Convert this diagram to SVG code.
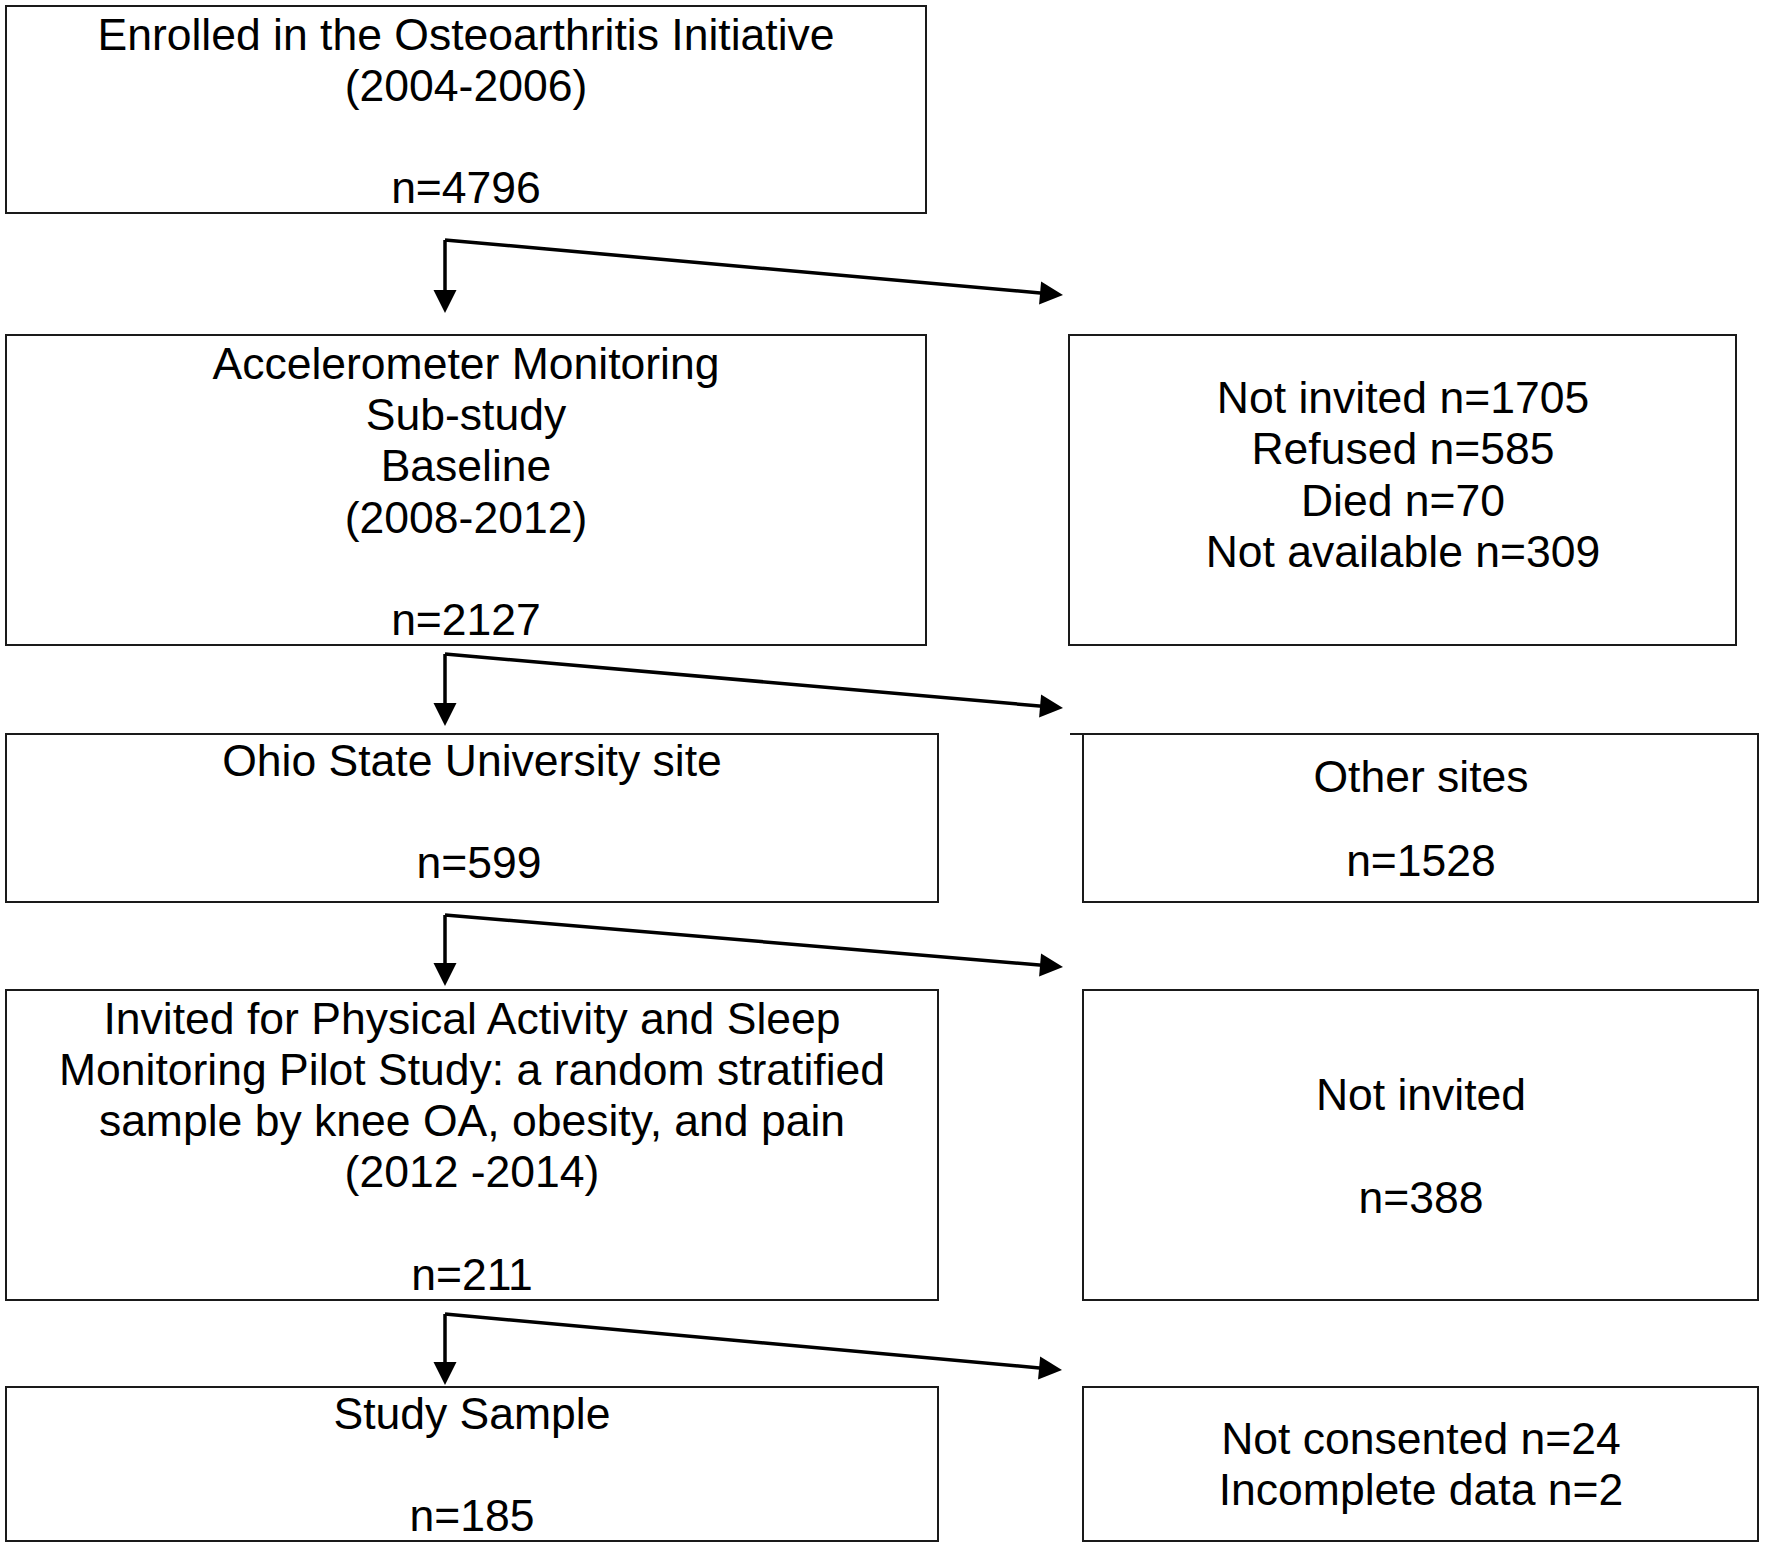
<svg xmlns="http://www.w3.org/2000/svg" width="1765" height="1548" viewBox="0 0 1765 1548">
<style>
.box{fill:#fff;stroke:#1a1a1a;stroke-width:2}
.t{font-family:"Liberation Sans",Arial,sans-serif;font-size:44.5px;fill:#000;text-anchor:middle}
.c{fill:none;stroke:#000;stroke-width:3.5}
</style>
<defs>
<marker id="ah" markerUnits="userSpaceOnUse" markerWidth="24" markerHeight="24" refX="11" refY="11.5" orient="auto" overflow="visible">
<path d="M0,0 L23,11.5 L0,23 z" fill="#000"/>
</marker>
</defs>
<rect width="1765" height="1548" fill="#fff"/>
<g id="enrolled">
<rect class="box" x="6" y="6" width="920" height="207"/>
<text class="t" x="466" y="49.5">Enrolled in the Osteoarthritis Initiative</text>
<text class="t" x="466" y="101">(2004-2006)</text>
<text class="t" x="466" y="203">n=4796</text>
</g>
<g id="accelerometer">
<rect class="box" x="6" y="335" width="920" height="310"/>
<text class="t" x="466" y="378.5">Accelerometer Monitoring</text>
<text class="t" x="466" y="430">Sub-study</text>
<text class="t" x="466" y="481">Baseline</text>
<text class="t" x="466" y="532.5">(2008-2012)</text>
<text class="t" x="466" y="635">n=2127</text>
</g>
<g id="excluded1">
<rect class="box" x="1069" y="335" width="667" height="310"/>
<text class="t" x="1403" y="413">Not invited n=1705</text>
<text class="t" x="1403" y="464.3">Refused n=585</text>
<text class="t" x="1403" y="515.6">Died n=70</text>
<text class="t" x="1403" y="567">Not available n=309</text>
</g>
<g id="ohio">
<rect class="box" x="6" y="734" width="932" height="168"/>
<text class="t" x="472" y="775.5">Ohio State University site</text>
<text class="t" x="479" y="878">n=599</text>
</g>
<g id="othersites">
<rect class="box" x="1083" y="734" width="675" height="168"/>
<line x1="1070" y1="734" x2="1084" y2="734" stroke="#1a1a1a" stroke-width="2"/>
<text class="t" x="1421" y="792">Other sites</text>
<text class="t" x="1421" y="875.5">n=1528</text>
</g>
<g id="invited">
<rect class="box" x="6" y="990" width="932" height="310"/>
<text class="t" x="472" y="1033.5">Invited for Physical Activity and Sleep</text>
<text class="t" x="472" y="1084.8">Monitoring Pilot Study: a random stratified</text>
<text class="t" x="472" y="1136.1">sample by knee OA, obesity, and pain</text>
<text class="t" x="472" y="1187.4">(2012 -2014)</text>
<text class="t" x="472" y="1290">n=211</text>
</g>
<g id="notinvited">
<rect class="box" x="1083" y="990" width="675" height="310"/>
<text class="t" x="1421" y="1110">Not invited</text>
<text class="t" x="1421" y="1212.5">n=388</text>
</g>
<g id="studysample">
<rect class="box" x="6" y="1387" width="932" height="154"/>
<text class="t" x="472" y="1428.5">Study Sample</text>
<text class="t" x="472" y="1531">n=185</text>
</g>
<g id="excluded2">
<rect class="box" x="1083" y="1387" width="675" height="154"/>
<text class="t" x="1421" y="1454">Not consented n=24</text>
<text class="t" x="1421" y="1505">Incomplete data n=2</text>
</g>
<g id="connectors">
<path class="c" d="M445,240 L445,301" marker-end="url(#ah)"/>
<path class="c" d="M445,240 L1051.05,293.94" marker-end="url(#ah)"/>
<path class="c" d="M445,654 L445,714" marker-end="url(#ah)"/>
<path class="c" d="M445,654 L1051.05,706.96" marker-end="url(#ah)"/>
<path class="c" d="M445,915 L445,974" marker-end="url(#ah)"/>
<path class="c" d="M445,915 L1051.04,965.99" marker-end="url(#ah)"/>
<path class="c" d="M445,1314 L445,1373" marker-end="url(#ah)"/>
<path class="c" d="M445,1314 L1050.05,1368.92" marker-end="url(#ah)"/>
</g>
</svg>
